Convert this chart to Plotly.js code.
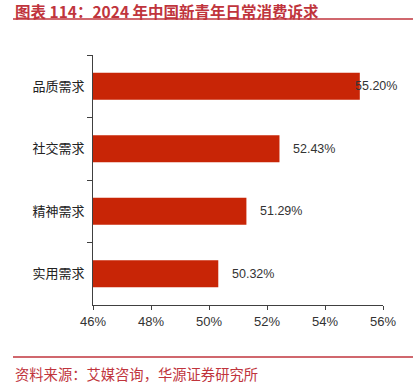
<!DOCTYPE html>
<html>
<head>
<meta charset="utf-8">
<script src="https://cdn.plot.ly/plotly-3.0.1.min.js"></script>
<style>html,body{margin:0;padding:0;background:#fff;}#chart{width:419px;height:387px;}</style>
</head>
<body>
<div id="chart"></div>
<script>
const categories = ["品质需求", "社交需求", "精神需求", "实用需求"];
const values = [55.20, 52.43, 51.29, 50.32];
const valueLabels = ["55.20%", "52.43%", "51.29%", "50.32%"];
const xTickVals = [46, 48, 50, 52, 54, 56];
const xTickText = ["46%", "48%", "50%", "52%", "54%", "56%"];
const titleText = "图表 114：2024 年中国新青年日常消费诉求";
const sourceText = "资料来源：艾媒咨询，华源证券研究所";

const red = "#C0343C";
const barColor = "#C82506";
const cjk = "'Noto Sans CJK SC', 'Noto Sans', sans-serif";
const latin = "'Liberation Sans', Arial, sans-serif";

// label shift (px): labels beyond the axis max are pulled back inside, like the source
const labelShift = values.map(v => (v > 55 ? -7 : 12));

const annotations = values.map((v, i) => ({
  x: v, y: categories[i], xref: "x", yref: "y",
  text: valueLabels[i], showarrow: false, xanchor: "left", yanchor: "middle",
  xshift: labelShift[i],
  font: {family: latin, size: 12.5, color: "#333"}
}));
annotations.push({
  text: "<b>" + titleText + "</b>", xref: "paper", yref: "paper",
  x: -0.2759, y: 1.178, xanchor: "left", yanchor: "middle", showarrow: false,
  font: {family: cjk, size: 15.5, color: red}
});
annotations.push({
  text: sourceText, xref: "paper", yref: "paper",
  x: -0.2759, y: -0.272, xanchor: "left", yanchor: "middle", showarrow: false,
  font: {family: cjk, size: 14.3, color: red}
});

const data = [{
  type: "bar", orientation: "h",
  x: values, y: categories,
  marker: {color: barColor},
  hoverinfo: "none"
}];

const layout = {
  width: 419, height: 387,
  margin: {l: 93, r: 36, t: 55, b: 82, pad: 0},
  paper_bgcolor: "#fff", plot_bgcolor: "#fff",
  showlegend: false,
  bargap: 0.57,
  xaxis: {
    range: [46, 56], tickvals: xTickVals, ticktext: xTickText,
    showgrid: false, zeroline: false,
    showline: true, linecolor: "#404040", linewidth: 1,
    ticks: "outside", ticklen: 4, tickcolor: "#404040", tickwidth: 1,
    tickfont: {family: latin, size: 13, color: "#333"}
  },
  yaxis: {
    type: "category", categoryorder: "array", categoryarray: categories,
    autorange: "reversed",
    showgrid: false, zeroline: false,
    showline: true, linecolor: "#404040", linewidth: 1,
    ticks: "outside", tickson: "boundaries", ticklen: 5, tickcolor: "#404040", tickwidth: 1,
    ticklabelstandoff: 5,
    tickfont: {family: cjk, size: 13, color: "#222"}
  },
  annotations: annotations,
  shapes: [
    {type: "line", xref: "paper", yref: "paper", x0: -0.2759, x1: 1.1034, y0: 1.144, y1: 1.144,
     line: {color: red, width: 1.5}},
    {type: "line", xref: "paper", yref: "paper", x0: -0.2759, x1: 1.1034, y0: -0.208, y1: -0.208,
     line: {color: red, width: 1.5}}
  ]
};

Plotly.newPlot("chart", data, layout, {displayModeBar: false, staticPlot: true});
</script>
</body>
</html>
